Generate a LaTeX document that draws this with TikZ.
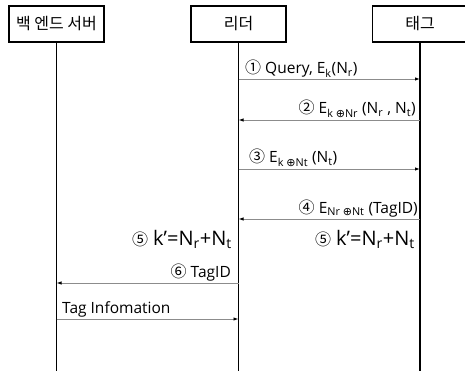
\documentclass[tikz,border=0pt]{standalone}
\usepackage{fontspec}
\setmainfont{Open Sans}
\newfontfamily\kr{Noto Sans CJK KR}
\newfontfamily\symf{DejaVu Sans}
\usetikzlibrary{arrows.meta,positioning}

\newcommand{\cnum}[1]{{\kr\fontsize{16}{16}\selectfont #1}}
\newcommand{\oplusx}{{\symf\fontsize{11}{11}\selectfont ⊕}}

\begin{document}
\begin{tikzpicture}[x=1pt, y=-1pt]
\tikzstyle{every node} = [font = \fontsize{15.5}{17}\selectfont, inner sep=0pt]
\tikzset{
    actor/.style = {draw, line width=1.3pt, minimum width=95pt, minimum height=36pt, font=\kr\fontsize{16}{18}\selectfont},
    life/.style = {line width=1.3pt},
    msg/.style = {draw=gray!90, line width=0.9pt, -{Latex[black, length=5pt, width=3.5pt]}},
    bigtxt/.style = {font=\fontsize{20}{22}\selectfont}
}
\useasboundingbox (0,0) rectangle (465,371);

% actors
\node[actor] (srv) at (56.5,24) {백 엔드 서버};
\node[actor] (rdr) at (238.5,24) {리더};
\node[actor] (tag) at (420,24) {태그};

% lifelines
\foreach \a in {srv,rdr,tag}
{
    \coordinate (\a end) at (\a.south |- 0,371);
    \draw[life] (\a.south) -- (\a end);
}

% message rows
\coordinate (m1) at (0,79);
\coordinate (m2) at (0,120);
\coordinate (m3) at (0,169);
\coordinate (m4) at (0,219);
\coordinate (m6) at (0,283);
\coordinate (m7) at (0,319);

\draw[msg] (rdr |- m1) -- (tag |- m1); %reader to tag
\node[anchor=base west] (l1) at (245,74) {\cnum{①} Query, E\textsubscript{k}(N\textsubscript{r})};

\draw[msg] (tag |- m2) -- (rdr |- m2); %tag to reader
\node[anchor=base east] (l2) at (416,114) {\cnum{②} E\textsubscript{k \oplusx{}Nr} (N\textsubscript{r} , N\textsubscript{t})};

\draw[msg] (rdr |- m3) -- (tag |- m3); %reader to tag
\node[anchor=base west] (l3) at (249,163) {\cnum{③} E\textsubscript{k \oplusx{}Nt} (N\textsubscript{t})};

\draw[msg] (tag |- m4) -- (rdr |- m4); %tag to reader
\node[anchor=base east] (l4) at (418,213) {\cnum{④} E\textsubscript{Nr \oplusx{}Nt} (TagID)};

% key update on both sides
\node[anchor=base east, bigtxt] (k1) at (415,245) {\cnum{⑤} k'=N\textsubscript{r}+N\textsubscript{t}};
\node[anchor=base east, bigtxt] (k2) at (232,245) {\cnum{⑤} k'=N\textsubscript{r}+N\textsubscript{t}};

\draw[msg] (rdr |- m6) -- (srv |- m6); %reader to server
\node[anchor=base east] (l6) at (231,277) {\cnum{⑥} TagID};

\draw[msg] (srv |- m7) -- (rdr |- m7); %server to reader
\node[anchor=base west] (l7) at (62,313) {Tag Infomation};
\end{tikzpicture}
\end{document}
